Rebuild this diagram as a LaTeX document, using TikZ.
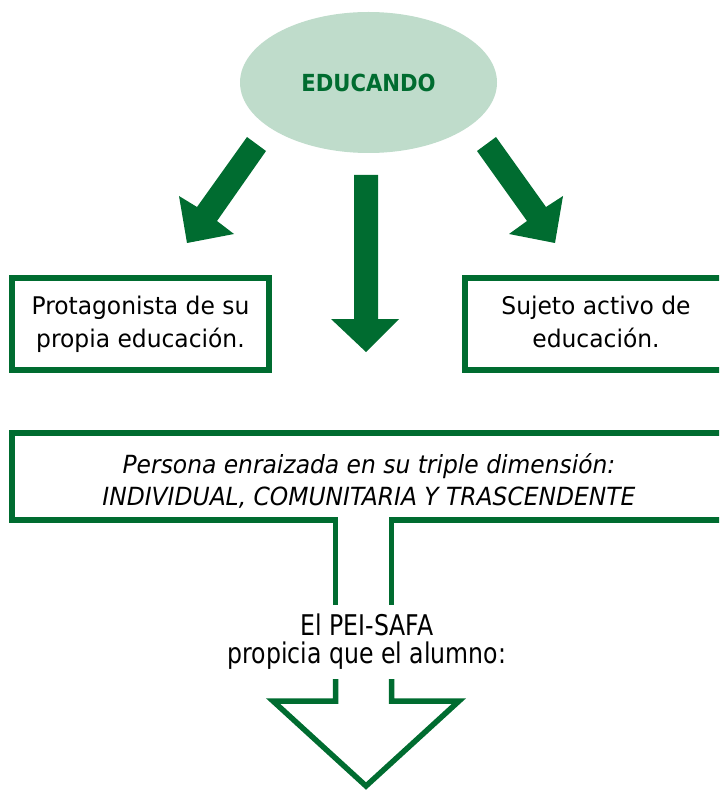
\documentclass[tikz,border=0pt]{standalone}
\usepackage{fontspec}
\setmainfont{DejaVu Sans Condensed}
\newfontfamily\boxfont[FakeStretch=1.07]{DejaVu Sans Condensed}
\newfontfamily\itfont[FakeStretch=1.04]{DejaVu Sans Condensed Oblique}
\newfontfamily\peifont[FakeStretch=0.92]{DejaVu Sans Condensed}
\usetikzlibrary{shapes.geometric}
\definecolor{dkg}{HTML}{006C30}
\definecolor{ltg}{HTML}{BFDCCB}
\begin{document}
\begin{tikzpicture}[x=1pt,y=-1pt,
  every node/.style={inner sep=0pt, outer sep=0pt},
  box/.style={draw=dkg, line width=5.5pt, fill=white, align=center,
    font=\boxfont\fontsize{24.3}{33}\selectfont, minimum height=92pt},
  blockarrow/.style={fill=dkg, draw=none},
  outline/.style={draw=dkg, line width=5.5pt, line join=miter, miter limit=10}]
\useasboundingbox (0,0) rectangle (719,791);
\begin{scope}
\clip (0,0) rectangle (719,791);
% central ellipse
\node[ellipse, fill=ltg, minimum width=257pt, minimum height=141pt, text=dkg,
  font=\fontsize{23.5}{28}\selectfont\bfseries] (edu) at (368.5,82.5) {EDUCANDO};
% block arrows
\fill[blockarrow] (247,137) -- (266,151) -- (217,221) -- (234,234) -- (187,243) -- (179,196) -- (197,207) -- cycle;
\fill[blockarrow] (354,175) -- (378,175) -- (378,319) -- (399,319) -- (366,352) -- (331,319) -- (354,319) -- cycle;
\fill[blockarrow] (496,137) -- (546,207) -- (563,196) -- (555,243) -- (509,234) -- (527,221) -- (477,151) -- cycle;
% boxes
\node[box, minimum width=257pt] (prot) at (140.5,324) {Protagonista de su\\propia educación.};
\node[box, minimum width=262pt] (suj) at (596,324) {Sujeto activo de\\educación.\vphantom{p}};
% outlined big arrow
\draw[outline] (335.5,605) -- (335.5,520) -- (12,520) -- (12,433) -- (730,433) -- (730,520) -- (391.5,520) -- (391.5,605);
\node[align=center, font=\itfont\fontsize{25}{32}\selectfont] (persona) at (369,481)
  {Persona enraizada en su triple dimensión:\\INDIVIDUAL, COMUNITARIA Y TRASCENDENTE};
\node[align=center, font=\peifont\fontsize{28.5}{28}\selectfont] (pei) at (367,641.5)
  {El PEI-SAFA\\propicia que el alumno:};
\draw[outline] (335.5,679) -- (335.5,701) -- (273,701) -- (366,786) -- (459,701) -- (391.5,701) -- (391.5,679);
\end{scope}
\end{tikzpicture}
\end{document}
